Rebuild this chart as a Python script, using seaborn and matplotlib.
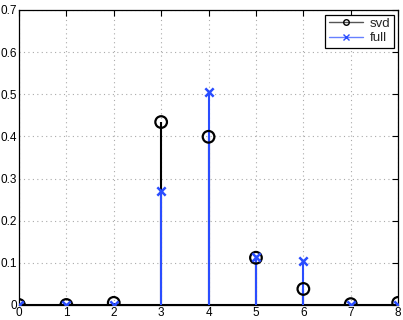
import matplotlib
matplotlib.use("Agg")
import matplotlib.pyplot as plt
import seaborn as sns
import pandas as pd

# data
idx = [0, 1, 2, 3, 4, 5, 6, 7, 8]
svd = [0.0, 0.0, 0.005, 0.434, 0.399, 0.112, 0.038, 0.002, 0.005]
full = [0.0, 0.0, 0.0, 0.27, 0.505, 0.113, 0.105, 0.0, 0.0]

df = pd.DataFrame({"idx": idx, "svd": svd, "full": full})

sns.set_style("white")
plt.rcParams['font.family'] = ['Liberation Sans', 'DejaVu Sans']

fig = plt.figure(figsize=(4.03, 3.2), dpi=100, facecolor='white')
ax = fig.add_axes([0.047, 0.047, 0.941, 0.922])

blue = '#2a4dff'

# stems
ax.vlines(df["idx"], 0, df["svd"], color='black', lw=1.5, zorder=2)
ax.vlines(df["idx"], 0, df["full"], color=blue, lw=1.5, zorder=3)
ax.axhline(0, color='black', lw=1.5, zorder=2)

# markers
sns.scatterplot(data=df, x="idx", y="svd", ax=ax, marker='o', s=70,
                facecolor='none', edgecolor='black', linewidth=1.6, zorder=4)
sns.scatterplot(data=df, x="idx", y="full", ax=ax, marker='x', s=36,
                color=blue, linewidth=1.8, zorder=5)

# legend handles
ax.plot([], [], color='#555555', lw=1, marker='o', markersize=4,
        markerfacecolor='none', markeredgecolor='black', label='svd')
ax.plot([], [], color='#6680ff', lw=1, marker='x', markersize=4,
        markeredgecolor=blue, label='full')
leg = ax.legend(loc='upper right', fontsize=9.5, frameon=True, fancybox=False,
                framealpha=1, edgecolor='black', borderpad=0.25,
                handlelength=2.6, handletextpad=0.5, borderaxespad=0.35,
                labelspacing=0.15)
leg.get_frame().set_linewidth(0.9)

ax.set_xlim(0, 8)
ax.set_ylim(0, 0.7)
ax.set_xticks(range(0, 9))
ax.set_yticks([0, 0.1, 0.2, 0.3, 0.4, 0.5, 0.6, 0.7])
ax.set_yticklabels(['0', '0.1', '0.2', '0.3', '0.4', '0.5', '0.6', '0.7'])
ax.set_xlabel('')
ax.set_ylabel('')
ax.grid(True, color='#aaaaaa', linestyle=(0, (1, 3)), linewidth=0.8)
ax.tick_params(direction='in', length=4, width=0.8, labelsize=8.5,
               top=True, right=True, pad=1.5, colors='black')
for s in ax.spines.values():
    s.set_color('black')
    s.set_linewidth(0.9)
    s.set_visible(True)

fig.savefig("out.png", dpi=100, facecolor='white')
